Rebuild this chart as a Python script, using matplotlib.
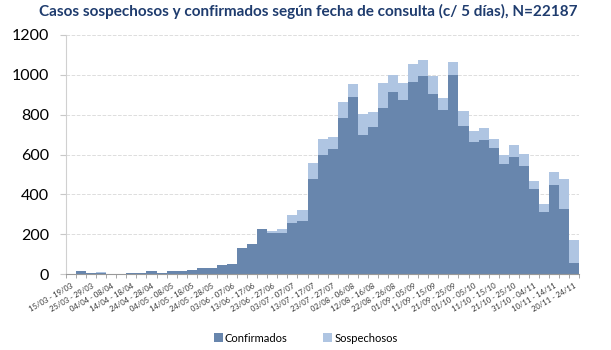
import numpy as np
import matplotlib.pyplot as plt

plt.rcParams['font.family'] = ['Lato', 'DejaVu Sans']

# 5-day periods, 15/03 to 24/11
periods = ['15/03 - 19/03', '20/03 - 24/03', '25/03 - 29/03', '30/03 - 03/04',
           '04/04 - 08/04', '09/04 - 13/04', '14/04 - 18/04', '19/04 - 23/04',
           '24/04 - 28/04', '29/04 - 03/05', '04/05 - 08/05', '09/05 - 13/05',
           '14/05 - 18/05', '19/05 - 23/05', '24/05 - 28/05', '29/05 - 02/06',
           '03/06 - 07/06', '08/06 - 12/06', '13/06 - 17/06', '18/06 - 22/06',
           '23/06 - 27/06', '28/06 - 02/07', '03/07 - 07/07', '08/07 - 12/07',
           '13/07 - 17/07', '18/07 - 22/07', '23/07 - 27/07', '28/07 - 01/08',
           '02/08 - 06/08', '07/08 - 11/08', '12/08 - 16/08', '17/08 - 21/08',
           '22/08 - 26/08', '27/08 - 31/08', '01/09 - 05/09', '06/09 - 10/09',
           '11/09 - 15/09', '16/09 - 20/09', '21/09 - 25/09', '26/09 - 30/09',
           '01/10 - 05/10', '06/10 - 10/10', '11/10 - 15/10', '16/10 - 20/10',
           '21/10 - 25/10', '26/10 - 30/10', '31/10 - 04/11', '05/11 - 09/11',
           '10/11 - 14/11', '15/11 - 19/11', '20/11 - 24/11']

confirmados = [2, 17, 4, 6, 2, 2, 3, 3, 15, 6, 17, 15, 22, 32, 28, 43, 50,
               133, 153, 225, 207, 207, 257, 265, 475, 597, 628, 783, 887, 697,
               740, 835, 913, 875, 965, 995, 905, 822, 1000, 743, 663, 673, 635,
               552, 590, 542, 427, 312, 445, 325, 57]

sospechosos = [0, 0, 1, 3, 0, 0, 0, 0, 0, 1, 0, 0, 0, 0, 0, 0, 0,
               0, 0, 0, 8, 20, 41, 58, 82, 81, 59, 82, 68, 108,
               75, 125, 84, 85, 90, 77, 90, 61, 65, 75, 57, 60, 45,
               46, 60, 61, 41, 38, 67, 153, 115]

dark = '#6886AD'
light = '#AFC5E2'

fig = plt.figure(figsize=(6.11, 3.5), dpi=100)
ax = fig.add_axes([0.108, 0.217, 0.84, 0.683])

x = np.arange(len(periods))
ax.bar(x, confirmados, width=1.0, color=dark, label='Confirmados')
ax.bar(x, sospechosos, width=1.0, bottom=confirmados, color=light, label='Sospechosos')

ax.set_xlim(-0.5, len(periods) - 0.5)
ax.set_ylim(0, 1200)
ax.set_yticks(range(0, 1201, 200))
ax.tick_params(axis='y', labelsize=11.5, length=4, color='#c8c8c8', pad=8)
ax.grid(axis='y', color='#dddddd', linestyle='--', linewidth=0.7)
ax.set_axisbelow(True)

ax.set_xticks(x[::2])
ax.set_xticklabels(periods[::2], rotation=30, ha='right', rotation_mode='anchor',
                   fontsize=5.5, color='#333333')
ax.set_xticks(np.arange(len(periods) + 1) - 0.5, minor=True)
ax.tick_params(axis='x', which='major', length=0, pad=6)
ax.tick_params(axis='x', which='minor', length=3, color='#999999')

for s in ['top', 'right']:
    ax.spines[s].set_visible(False)
ax.spines['left'].set_color('#d0d0d0')
ax.spines['bottom'].set_color('#999999')

fig.suptitle('Casos sospechosos y confirmados según fecha de consulta (c/ 5 días), N=22187',
             x=0.505, y=0.988, fontsize=11, fontweight='bold', color='#1F3C6E')

fig.legend(loc='lower center', bbox_to_anchor=(0.5, -0.01), ncol=2, frameon=False,
           fontsize=8, handlelength=0.8, handleheight=0.8, handletextpad=0.2,
           columnspacing=3.2)

plt.savefig('out.png', dpi=100)
